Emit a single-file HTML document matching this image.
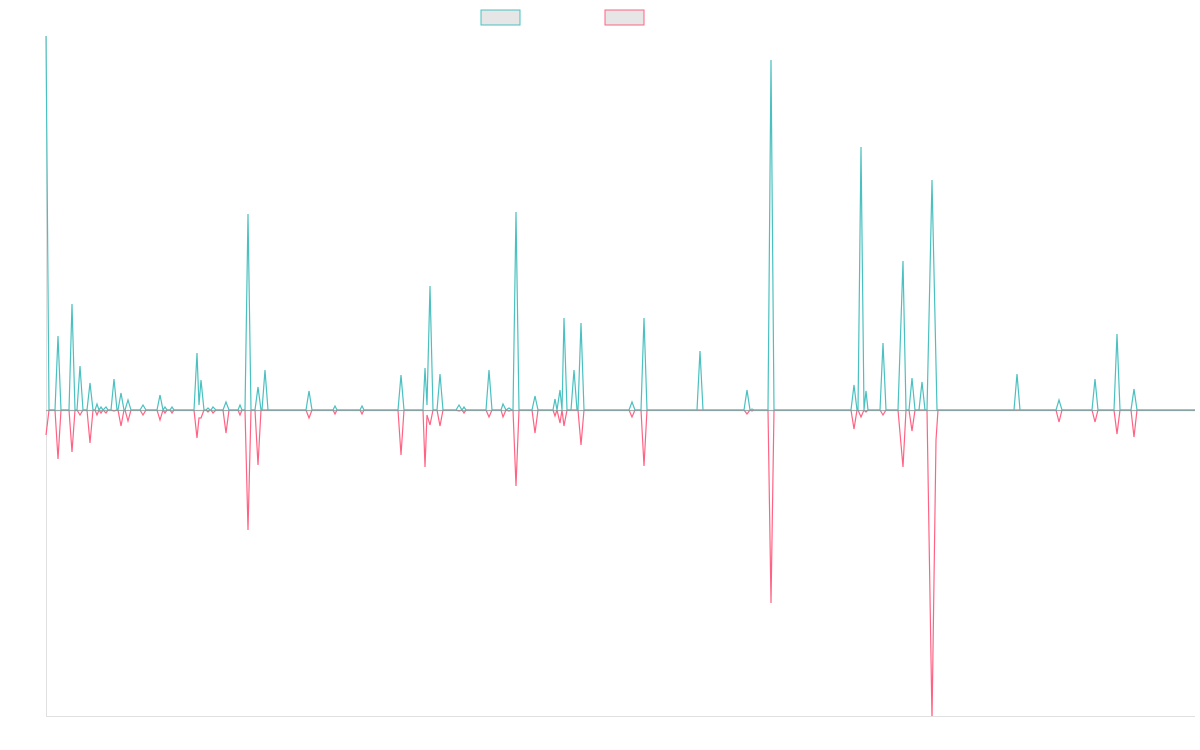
<!DOCTYPE html>
<html><head><meta charset="utf-8"><style>html,body{margin:0;padding:0;background:#fff;width:1200px;height:750px;overflow:hidden}</style></head>
<body>
<svg width="1200" height="750" xmlns="http://www.w3.org/2000/svg">
<defs><clipPath id="c"><rect x="40" y="0" width="1160" height="716"/></clipPath></defs>
<rect x="481" y="10" width="39" height="15" fill="#e6e6e6" stroke="#4bc0c0" stroke-width="1"/>
<rect x="605" y="10" width="39" height="15" fill="#e6e6e6" stroke="#ff6384" stroke-width="1"/>
<line x1="46.5" y1="36" x2="46.5" y2="716" stroke="#e0e0e0"/>
<line x1="46" y1="716.5" x2="1195" y2="716.5" stroke="#e0e0e0"/>
<g clip-path="url(#c)">
<polyline fill="none" stroke="#ff6384" stroke-width="1.2" points="46,435 49,410 55,410 58,459 61,410 69,410 72,452 75,410 77,410 80,415 83,410 87,410 90,443 93,410 95,410 97,415 99,410 101,413 103,410 106,413 108,410 111,410 114,411 117,410 118,410 121,426 124,410 125,410 128,421 131,410 140,410 143,415 146,410 157,410 160,420 163,410 165,413 167,410 170,410 172,413 174,410 194,410 197,438 199,418 201,418 204,410 206,410 208,412 210,410 211,410 213,413 216,410 223,410 226,433 229,410 238,410 240,415 242,410 245,410 248,530 251,410 255,410 258,465 261,410 306,410 309,418 312,410 333,410 335,414 337,410 360,410 362,414 364,410 398,410 401,455 404,410 423,410 425,467 427,415 430,425 433,410 437,410 440,426 443,410 456,410 459,411 462,410 464,413 466,410 486,410 489,417 492,410 501,410 503,417 506,410 509,411 512,410 513,410 516,486 519,410 532,410 535,433 538,410 553,410 555,416 557,410 560,423 562,410 564,426 567,410 578,410 581,445 584,410 629,410 632,417 635,410 641,410 644,466 647,410 744,410 747,414 750,410 752,411 754,410 768,410 771,603 774,410 851,410 854,429 857,410 858,410 861,417 864,410 866,412 868,410 880,410 883,415 886,410 898,410 903,467 906,410 909,410 912,431 915,410 927,410 932,720 936,440 938,410 1056,410 1059,422 1062,410 1092,410 1095,422 1098,410 1114,410 1117,434 1120,410 1131,410 1134,437 1137,410 1195,410"/>
<polyline fill="none" stroke="#4bc0c0" stroke-width="1.2" points="46,36 49,410 55,410 58,336 61,410 69,410 72,304 75,410 77,410 80,366 83,410 87,410 90,383 93,410 95,410 97,404 99,410 101,407 103,410 106,407 108,410 111,410 114,379 117,410 118,410 121,393 124,410 125,410 128,400 131,410 140,410 143,405 146,410 157,410 160,395 163,410 165,407 167,410 170,410 172,407 174,410 194,410 197,353 199,405 201,380 204,410 206,410 208,408 210,410 211,410 213,407 216,410 223,410 226,402 229,410 238,410 240,405 242,410 245,410 248,214 251,410 255,410 258,387 261,410 262,410 265,370 268,410 306,410 309,391 312,410 333,410 335,406 337,410 360,410 362,406 364,410 398,410 401,375 404,410 423,410 425,368 427,405 430,286 433,410 437,410 440,374 443,410 456,410 459,405 462,410 464,407 466,410 486,410 489,370 492,410 501,410 503,404 506,410 509,408 512,410 513,410 516,212 519,410 532,410 535,396 538,410 553,410 555,399 557,410 560,390 562,410 564,318 567,410 571,410 574,370 577,410 578,410 581,323 584,410 629,410 632,402 635,410 641,410 644,318 647,410 697,410 700,351 703,410 744,410 747,390 750,410 752,409 754,410 768,410 771,60 774,410 851,410 854,385 857,410 858,410 861,147 864,410 866,391 868,410 880,410 883,343 886,410 898,410 903,261 906,410 909,410 912,378 915,410 919,410 922,382 925,410 927,410 932,180 937,410 1014,410 1017,374 1020,410 1056,410 1059,400 1062,410 1092,410 1095,379 1098,410 1114,410 1117,334 1120,410 1131,410 1134,389 1137,410 1195,410"/>
</g>
<line x1="46" y1="410.5" x2="1195" y2="410.5" stroke="#8a9a9a" stroke-width="1.2" opacity="0.8"/>
</svg>
</body></html>
